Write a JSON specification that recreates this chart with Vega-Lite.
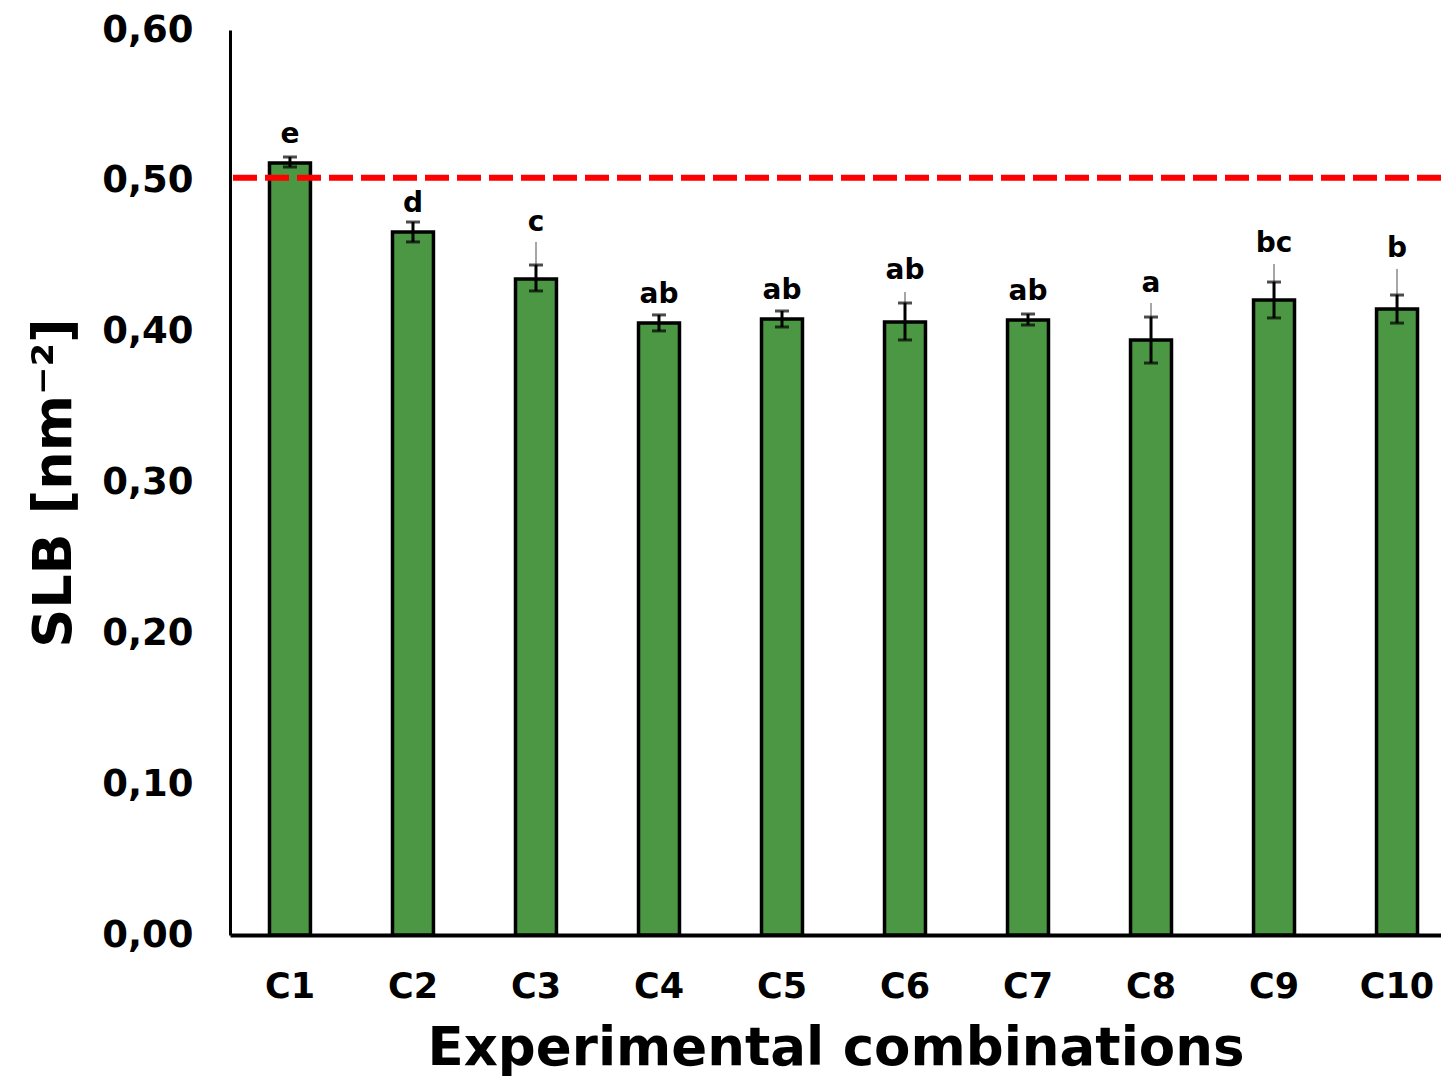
{
  "$schema": "https://vega.github.io/schema/vega-lite/v6.json",
  "width": 1211,
  "height": 905,
  "autosize": "none",
  "padding": {"left": 230, "top": 30, "right": 0, "bottom": 143},
  "background": "white",
  "config": {
    "view": {"stroke": null},
    "font": "DejaVu Sans",
    "axis": {"grid": false, "ticks": false, "domainColor": "black", "labelColor": "black", "titleColor": "black", "labelFont": "DejaVu Sans", "titleFont": "DejaVu Sans", "labelFontWeight": "bold", "titleFontWeight": "bold"}
  },
  "datasets": {
    "bars": [
      {"combo": "C1", "slb": 0.5118, "lo": 0.5092, "hi": 0.5158, "letter": "e", "ly": 0.5304},
      {"combo": "C2", "slb": 0.4661, "lo": 0.4595, "hi": 0.4727, "letter": "d", "ly": 0.4847},
      {"combo": "C3", "slb": 0.4349, "lo": 0.4270, "hi": 0.4442, "letter": "c", "ly": 0.4721},
      {"combo": "C4", "slb": 0.4058, "lo": 0.4005, "hi": 0.4111, "letter": "ab", "ly": 0.4243},
      {"combo": "C5", "slb": 0.4084, "lo": 0.4031, "hi": 0.4137, "letter": "ab", "ly": 0.4270},
      {"combo": "C6", "slb": 0.4064, "lo": 0.3945, "hi": 0.4190, "letter": "ab", "ly": 0.4402},
      {"combo": "C7", "slb": 0.4077, "lo": 0.4044, "hi": 0.4117, "letter": "ab", "ly": 0.4263},
      {"combo": "C8", "slb": 0.3945, "lo": 0.3792, "hi": 0.4097, "letter": "a", "ly": 0.4316},
      {"combo": "C9", "slb": 0.4210, "lo": 0.4091, "hi": 0.4329, "letter": "bc", "ly": 0.4581},
      {"combo": "C10", "slb": 0.4150, "lo": 0.4057, "hi": 0.4243, "letter": "b", "ly": 0.4548}
    ],
    "leaders": [
      {"combo": "C3", "top": 0.4595, "bottom": 0.4356},
      {"combo": "C6", "top": 0.4263, "bottom": 0.4064},
      {"combo": "C8", "top": 0.4190, "bottom": 0.3945},
      {"combo": "C9", "top": 0.4449, "bottom": 0.4210},
      {"combo": "C10", "top": 0.4416, "bottom": 0.4150}
    ],
    "ref": [{"threshold": 0.502}]
  },
  "encoding": {
    "x": {
      "field": "combo", "type": "nominal", "sort": null,
      "scale": {"domain": ["C1","C2","C3","C4","C5","C6","C7","C8","C9","C10"], "paddingInner": 0.667, "paddingOuter": 0.256, "align": 0.627},
      "axis": {"title": "Experimental combinations", "labelAngle": 0, "labelFontSize": 35, "labelPadding": 34, "titleFontSize": 53, "titlePadding": 18, "domainWidth": 4}
    }
  },
  "layer": [
    {
      "data": {"name": "bars"},
      "mark": {"type": "bar", "fill": "#4c9743", "stroke": "black", "strokeWidth": 3.5},
      "encoding": {
        "y": {
          "field": "slb", "type": "quantitative",
          "scale": {"domain": [0, 0.6], "nice": false, "zero": true},
          "axis": {"title": "SLB [nm⁻²]", "values": [0, 0.1, 0.2, 0.3, 0.4, 0.5, 0.6], "labelExpr": "replace(format(datum.value, '.2f'), '.', ',')", "labelFontSize": 37, "labelPadding": 37, "titleFontSize": 54, "titlePadding": 20, "domainWidth": 3}
        }
      }
    },
    {
      "data": {"name": "leaders"},
      "mark": {"type": "rule", "color": "#a6a6a6", "strokeWidth": 2},
      "encoding": {
        "y": {"field": "top", "type": "quantitative"},
        "y2": {"field": "bottom"}
      }
    },
    {
      "data": {"name": "bars"},
      "mark": {"type": "rule", "color": "black", "strokeWidth": 3},
      "encoding": {
        "y": {"field": "lo", "type": "quantitative"},
        "y2": {"field": "hi"}
      }
    },
    {
      "data": {"name": "bars"},
      "mark": {"type": "tick", "color": "black", "thickness": 3, "size": 14},
      "encoding": {"y": {"field": "lo", "type": "quantitative"}}
    },
    {
      "data": {"name": "bars"},
      "mark": {"type": "tick", "color": "black", "thickness": 3, "size": 14},
      "encoding": {"y": {"field": "hi", "type": "quantitative"}}
    },
    {
      "data": {"name": "bars"},
      "mark": {"type": "text", "fontSize": 28, "fontWeight": "bold", "color": "black", "baseline": "middle", "align": "center"},
      "encoding": {
        "y": {"field": "ly", "type": "quantitative"},
        "text": {"field": "letter"}
      }
    },
    {
      "data": {"name": "ref"},
      "mark": {"type": "rule", "color": "#ff0000", "strokeWidth": 6, "strokeDash": [24, 8]},
      "encoding": {
        "y": {"field": "threshold", "type": "quantitative"},
        "x": null
      }
    }
  ]
}
